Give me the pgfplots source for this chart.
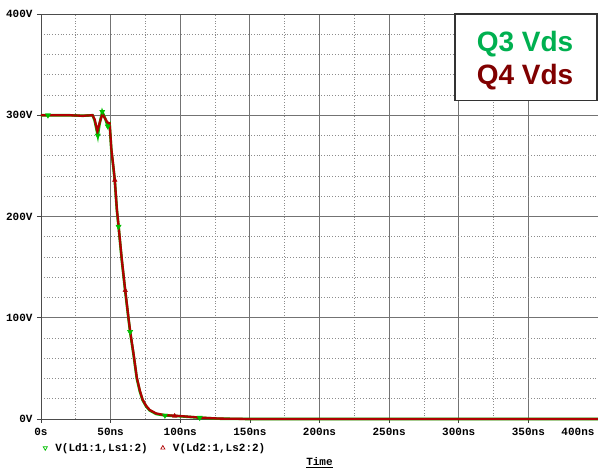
\documentclass[border=0pt]{standalone}
\usepackage{pgfplots}
\pgfplotsset{compat=1.18}
\usepackage{fontspec}
\setmainfont{Liberation Mono}
\newfontfamily\boxfont{Liberation Sans}

\definecolor{trgreen}{RGB}{0,190,0}
\definecolor{trred}{RGB}{175,0,0}
\definecolor{lblgreen}{RGB}{0,176,80}
\definecolor{lblred}{RGB}{128,0,0}

% V(Ld1:1,Ls1:2): Q3 drain-source voltage
\pgfplotstableread{
t v
0 300
20 300
30 299.5
37 300
38.5 295
40.8 280
42 291
44 303.5
46 297
48 289
49.3 291
50.5 266
52 248
53 235
54.5 206
55.7 190
58 157
60.5 126
63 97
64 86
66.4 64
68.8 40
71 27
73 18.5
75.5 12.5
78 8.5
82.6 5
89 3.5
99 2.8
114 1.3
128 0.3
150 0
400 0
}\qthree

% V(Ld2:1,Ls2:2): Q4 drain-source voltage
\pgfplotstableread{
t v
0 300
20 300
30 299.5
37 300
38.5 296
40.5 284
42 292
44 301
46 297
47.6 293
49.3 292
50.5 267
52 249
53 236
54.5 207
55.7 191
58 158
60.5 127
63 98
64 87
66.4 65
68.8 41
71 28
73 19
75.5 13
78 9
82.6 5.5
89 3.8
99 3
114 1.4
128 0.4
150 0
400 0
}\qfour

% probe markers along each trace
\pgfplotstableread{
t v
5 300
40.8 280
44 303.5
48 289
55.7 190
64 86
89 3.5
114 1.3
}\qthreemarks

\pgfplotstableread{
t v
53 236
60.5 127
96 3
}\qfourmarks

\begin{document}
\begin{tikzpicture}
\begin{axis}[
  scale only axis,
  width=557pt, height=405pt,
  xmin=0, xmax=400, ymin=0, ymax=400,
  clip=false,
  xtick={0,50,...,350},
  xticklabels={0s,50ns,100ns,150ns,200ns,250ns,300ns,350ns},
  extra x ticks={400},
  extra x tick labels={400ns},
  extra x tick style={xticklabel style={anchor=north east, xshift=0pt}},
  ytick={0,100,200,300,400},
  yticklabels={0V,100V,200V,300V,400V},
  minor x tick num=1,
  minor y tick num=4,
  tick pos=left,
  tick align=outside,
  major tick length=4pt,
  minor tick length=0pt,
  tick style={black!75, line width=0.7pt},
  grid=both,
  major grid style={black!55, line width=0.8pt},
  minor grid style={black!45, line width=0.7pt, dash pattern=on 0.8pt off 2pt},
  axis line style={black!70, line width=0.8pt},
  xticklabel style={font=\bfseries\fontsize{11}{12}\selectfont, yshift=-2pt},
  yticklabel style={font=\bfseries\fontsize{11}{12}\selectfont, xshift=-1pt},
  xlabel={\underline{Time}},
  xlabel style={font=\bfseries\fontsize{11}{12}\selectfont, at={(axis description cs:0.5,0)}, anchor=center, yshift=-44pt},
  legend columns=2,
  legend style={draw=none, fill=none, at={(axis description cs:0,0)}, anchor=north west,
    xshift=2pt, yshift=-22pt, inner sep=0pt,
    font=\bfseries\fontsize{11}{12}\selectfont,
    /tikz/every odd column/.append style={column sep=6pt},
    /tikz/every even column/.append style={column sep=11pt}},
  legend cell align=left,
]
\addlegendimage{only marks, mark=triangle, mark size=2.4pt, trgreen, mark options={rotate=180, line width=0.7pt}}
\addlegendentry{V(Ld1:1,Ls1:2)}
\addlegendimage{only marks, mark=triangle, mark size=2.4pt, trred, mark options={line width=0.7pt}}
\addlegendentry{V(Ld2:1,Ls2:2)}

\addplot[trgreen, line width=2.6pt, forget plot] table[x=t, y=v] {\qthree};
\addplot[only marks, mark=triangle*, mark size=3pt, trgreen, mark options={rotate=180}, forget plot] table[x=t, y=v] {\qthreemarks};
\addplot[trred, line width=2.3pt, forget plot] table[x=t, y=v] {\qfour};
\addplot[only marks, mark=triangle*, mark size=2.6pt, trred, forget plot] table[x=t, y=v] {\qfourmarks};

% trace label box
\draw[fill=white, draw=black!80, line width=1.6pt] (rel axis cs:0.7433,1) rectangle (rel axis cs:0.9985,0.786);
\node[text=lblgreen, font=\boxfont\bfseries\fontsize{28}{30}\selectfont, yshift=-2pt] at (rel axis cs:0.869,0.931) {Q3 Vds};
\node[text=lblred, font=\boxfont\bfseries\fontsize{28}{30}\selectfont, yshift=-2pt] at (rel axis cs:0.869,0.849) {Q4 Vds};
\end{axis}
\pgfresetboundingbox
\path (-41pt,-52pt) rectangle (557pt,419pt);
\end{tikzpicture}
\end{document}
